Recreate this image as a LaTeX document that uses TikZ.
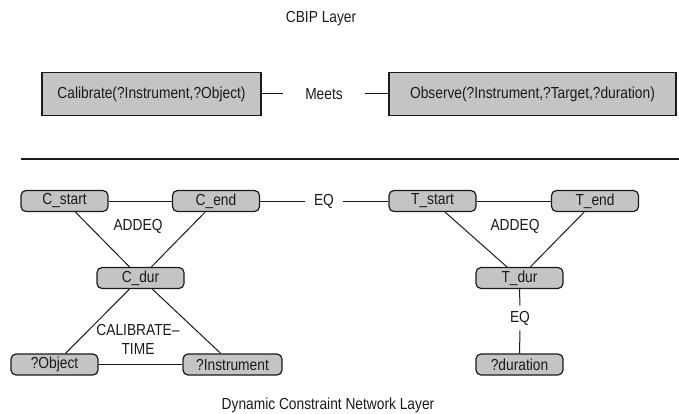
\documentclass[tikz,border=0pt]{standalone}
\usepackage{fontspec}
\setmainfont{Liberation Sans}[FakeStretch=0.86]
\usepackage{tikz}
\usetikzlibrary{positioning}
\definecolor{InkBlack}{HTML}{1A1A1A}
\definecolor{ScreenGray}{HTML}{C4C4C4}
\tikzset{
  LB/.style={rectangle,draw=InkBlack,line width=1.2pt,fill=ScreenGray,
             minimum height=43pt,inner xsep=6pt,text=InkBlack},
  VB/.style={rectangle,rounded corners=5pt,draw=InkBlack,line width=1.2pt,
             fill=ScreenGray,minimum width=87pt,minimum height=21pt,
             inner sep=2pt,text=InkBlack},
  TL/.style={text=InkBlack},
  ln/.style={draw=InkBlack,line width=1pt}
}

\begin{document}
\begin{tikzpicture}[x=1pt,y=-1pt,every node/.style={font=\fontsize{16}{19}\selectfont}]
  \useasboundingbox (0,0) rectangle (679,414);
  % CBIP layer
  \node[TL] (cbip) at (321,19) {CBIP Layer};
  \node[LB,minimum width=219pt] (cal) at (151.5,94) {Calibrate(?Instrument,?Object)};
  \node[LB,minimum width=287pt] (obs) at (532.5,94) {Observe(?Instrument,?Target,?duration)};
  \node[TL,inner xsep=22pt] (meets) at (324,94) {Meets};

  \draw[ln](cal)--(meets);
  \draw[ln](meets)--(obs);

  % layer separator
  \coordinate (sepL) at (21,159);
  \coordinate (sepR) at (679,159);
  \draw[ln,line width=1.3pt](sepL)--(sepR);

  % dynamic constraint network layer
  \node[VB] (cstart) at (64.5,201) {C\_start};
  \node[VB] (cend) at (216,201) {C\_end};
  \node[TL,inner xsep=9pt] (eqmid) at (324,201) {EQ};
  \node[VB] (tstart) at (432.5,201) {T\_start};
  \node[VB] (tend) at (595,201) {T\_end};
  \node[VB] (cdur) at (140.5,278) {C\_dur};
  \node[VB] (tdur) at (519.5,278) {T\_dur};
  \node[VB] (cobj) at (54.5,364.5) {?Object};
  \node[VB,minimum width=99pt] (cinst) at (232.5,364.5) {?Instrument};
  \node[VB] (tdurv) at (519.5,364.5) {?duration};
  \node[TL] (addC) at (138,226) {ADDEQ};
  \node[TL] (addT) at (515,226) {ADDEQ};
  \node[TL,align=center] (caltime) at (138,339) {CALIBRATE--\\TIME};
  \node[TL,inner ysep=5pt] (eqlow) at (520,318) {EQ};
  \node[TL] (dcn) at (328,405) {Dynamic Constraint Network Layer};

  \draw[ln](cstart)--(cend);
  \draw[ln](cend)--(eqmid);
  \draw[ln](eqmid)--(tstart);
  \draw[ln](tstart)--(tend);
  \draw[ln](cstart)--(cdur);
  \draw[ln](cend)--(cdur);
  \draw[ln](cdur)--(cobj);
  \draw[ln](cdur)--(cinst);
  \draw[ln](cobj)--(cinst);
  \draw[ln](tstart)--(tdur);
  \draw[ln](tend)--(tdur);
  \draw[ln](tdur)--(eqlow);
  \draw[ln](eqlow)--(tdurv);
\end{tikzpicture}
\end{document}
